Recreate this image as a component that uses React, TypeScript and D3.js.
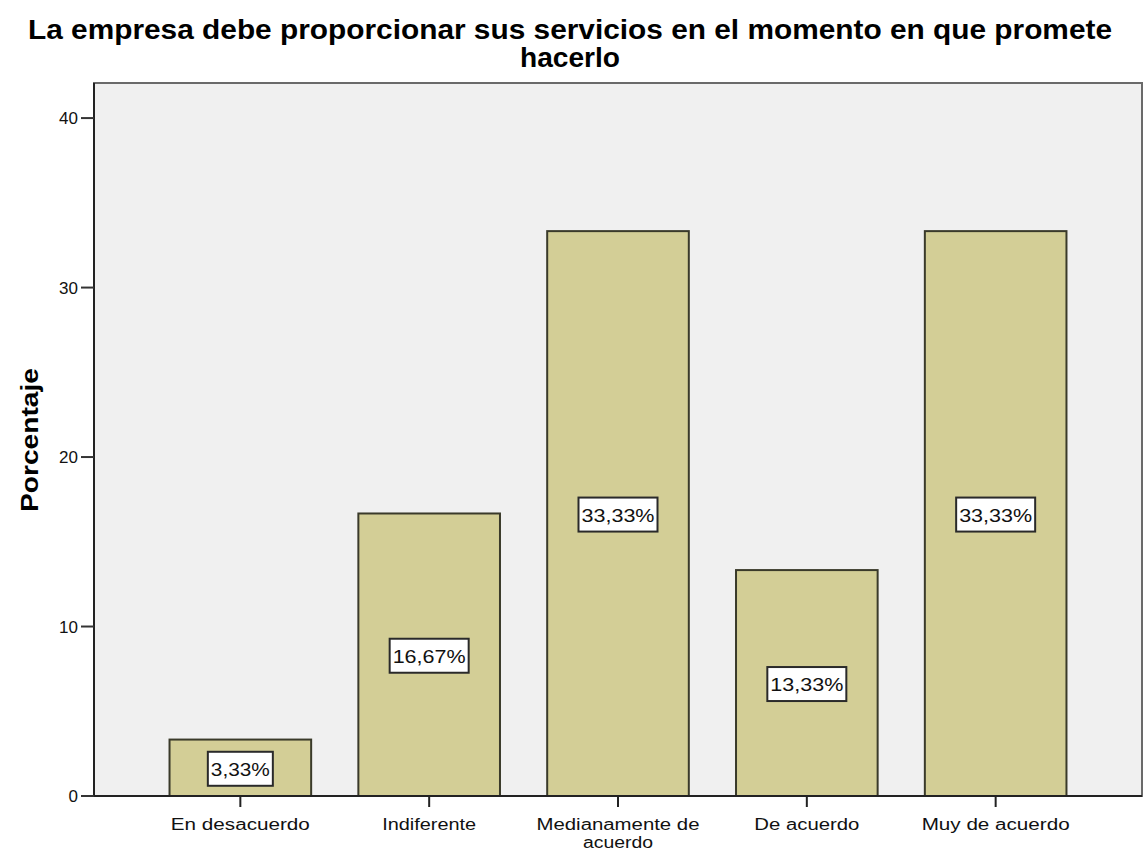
import React from "react";
import * as d3 from "d3";

const categories = ["En desacuerdo", "Indiferente", "Medianamente de acuerdo", "De acuerdo", "Muy de acuerdo"];
const categoryLines = [["En desacuerdo"], ["Indiferente"], ["Medianamente  de", "acuerdo"], ["De acuerdo"], ["Muy de acuerdo"]];
const values = [3.33, 16.67, 33.33, 13.33, 33.33];
const valueLabels = ["3,33%", "16,67%", "33,33%", "13,33%", "33,33%"];
const yTicks = [0, 10, 20, 30, 40];
const titleLines = ["La empresa debe proporcionar sus servicios en el momento  en que promete", "hacerlo"];
const yAxisTitle = "Porcentaje";

const W = 1145;
const H = 852;
const left = 94;
const right = 1142;
const top = 83;
const bottom = 796;

export default function App() {
  const y = d3.scaleLinear().domain([0, 42.07]).range([bottom, top]);
  const x = d3
    .scaleBand<string>()
    .domain(categories)
    .range([left, right])
    .paddingInner(0.25)
    .paddingOuter(0.4);
  const font = "'Liberation Sans', Arial, sans-serif";
  const titleLen = [1084, 100];
  const titleY = [39, 67];
  const catLen: Record<string, number> = {
    "En desacuerdo": 139,
    Indiferente: 94,
    "Medianamente  de": 163,
    acuerdo: 70,
    "De acuerdo": 105,
    "Muy de acuerdo": 148,
  };
  return (
    <svg
      width={W}
      height={H}
      style={{ position: "absolute", left: 0, top: 0, background: "#fff" }}
      fontFamily={font}
    >
      <rect x={0} y={0} width={W} height={H} fill="#fff" />
      {titleLines.map((t, i) => (
        <text
          key={i}
          x={570}
          y={titleY[i]}
          textAnchor="middle"
          fontSize={28}
          fontWeight="bold"
          fill="#000"
          textLength={titleLen[i]}
          lengthAdjust="spacingAndGlyphs"
        >
          {t}
        </text>
      ))}
      <rect x={left} y={top} width={right - left} height={bottom - top} fill="#f0f0f0" stroke="#6a6a6a" strokeWidth={2} />
      {categories.map((c, i) => {
        const bx = x(c)!;
        const bw = x.bandwidth();
        const yv = y(values[i]);
        const cx = bx + bw / 2;
        const my = (yv + bottom) / 2;
        const lw = valueLabels[i].length * 14 - 5;
        return (
          <g key={c}>
            <rect x={bx} y={yv} width={bw} height={bottom - yv} fill="#d3ce96" stroke="#3a3a2a" strokeWidth={2} />
            <rect x={cx - lw / 2} y={my - 16} width={lw} height={34} fill="#fff" stroke="#2a2a2a" strokeWidth={2} />
            <text
              x={cx}
              y={my + 8}
              textAnchor="middle"
              fontSize={19}
              fill="#111"
              textLength={lw - 6}
              lengthAdjust="spacingAndGlyphs"
            >
              {valueLabels[i]}
            </text>
            <line x1={cx} x2={cx} y1={bottom} y2={bottom + 11} stroke="#222" strokeWidth={2} />
            {categoryLines[i].map((l, j) => (
              <text
                key={j}
                x={cx}
                y={830 + j * 18}
                textAnchor="middle"
                fontSize={16}
                fill="#111"
                textLength={catLen[l]}
                lengthAdjust="spacingAndGlyphs"
              >
                {l}
              </text>
            ))}
          </g>
        );
      })}
      <line x1={left} x2={left} y1={top} y2={bottom} stroke="#222" strokeWidth={2} />
      <line x1={left} x2={right} y1={bottom} y2={bottom} stroke="#222" strokeWidth={2} />
      {yTicks.map((t) => (
        <g key={t}>
          <line x1={left - 13} x2={left} y1={y(t)} y2={y(t)} stroke="#333" strokeWidth={2} />
          <text x={78} y={y(t) + 6} textAnchor="end" fontSize={17} fill="#111">
            {t}
          </text>
        </g>
      ))}
      <text
        transform={`translate(38, 440) rotate(-90)`}
        textAnchor="middle"
        fontSize={24}
        fontWeight="bold"
        fill="#000"
        textLength={144}
        lengthAdjust="spacingAndGlyphs"
      >
        {yAxisTitle}
      </text>
    </svg>
  );
}
